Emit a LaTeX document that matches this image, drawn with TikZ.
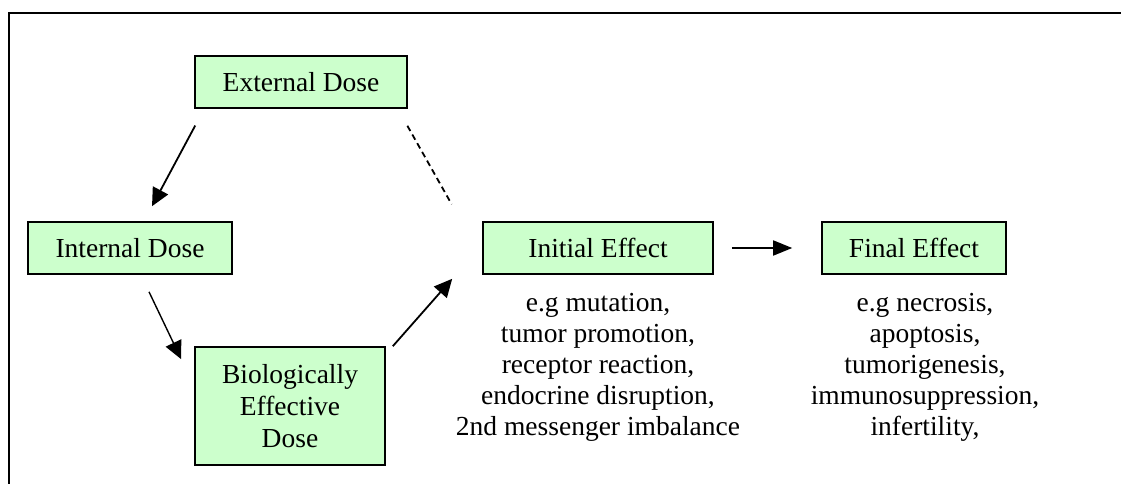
\documentclass[tikz,border=0pt]{standalone}
\usepackage{fontspec}
\setmainfont{Liberation Serif}
\usetikzlibrary{positioning,arrows.meta}
\definecolor{boxgreen}{HTML}{CCFFCC}

\begin{document}
\begin{tikzpicture}[x=1pt, y=-1pt,
    box/.style={draw, fill=boxgreen, line width=1.6pt, align=center, inner sep=0pt, font=\fontsize{27.5}{32}\selectfont},
    note/.style={align=center, inner sep=0pt, font=\fontsize{27.5}{31}\selectfont},
    arr/.style={-{Triangle[length=18pt,width=17pt]}, line width=1.8pt}]
    \useasboundingbox (0,0) rectangle (1121,484);
    \draw[line width=2.4pt] (9,484) -- (9,13) -- (1121,13);

    \node[box, minimum width=212pt, minimum height=52pt] (ext) at (301,82) {External Dose};
    \node[box, minimum width=204pt, minimum height=52pt] (int) at (130,248) {Internal Dose};
    \node[box, minimum width=190pt, minimum height=118pt] (bio) at (290,406) {Biologically\\Effective\\Dose};
    \node[box, minimum width=230pt, minimum height=52pt] (init) at (598,248) {Initial Effect};
    \node[box, minimum width=184pt, minimum height=52pt] (final) at (914,248) {Final Effect};

    \node[note, below=18pt of init] (initnote) {e.g mutation,\\tumor promotion,\\receptor reaction,\\endocrine disruption,\\2nd messenger imbalance};
    \node[note, below=18pt of final, xshift=11pt] (finalnote) {e.g necrosis,\\apoptosis,\\tumorigenesis,\\immunosuppression,\\infertility,};

    \draw[arr, shorten <=19pt, shorten >=17pt] ([xshift=10pt]ext.south west) -- ([xshift=14pt]int.north);
    \draw[line width=1.8pt, dash pattern=on 6pt off 4pt, shorten <=19.5pt, shorten >=19.5pt] ([xshift=-10pt]ext.south east) -- ([xshift=-21pt]init.north west);
    \draw[arr, line width=1.4pt] ([xshift=19pt,yshift=-17pt]int.south) -- ([xshift=-13pt,yshift=-13pt]bio.north west);
    \draw[arr] ([xshift=7pt]bio.north east) -- ([xshift=-30pt,yshift=-4pt]init.south west);
    \draw[arr, -{Triangle[length=19pt,width=15pt]}, shorten <=18pt, shorten >=29pt] (init.east) -- (final.west);
\end{tikzpicture}
\end{document}
